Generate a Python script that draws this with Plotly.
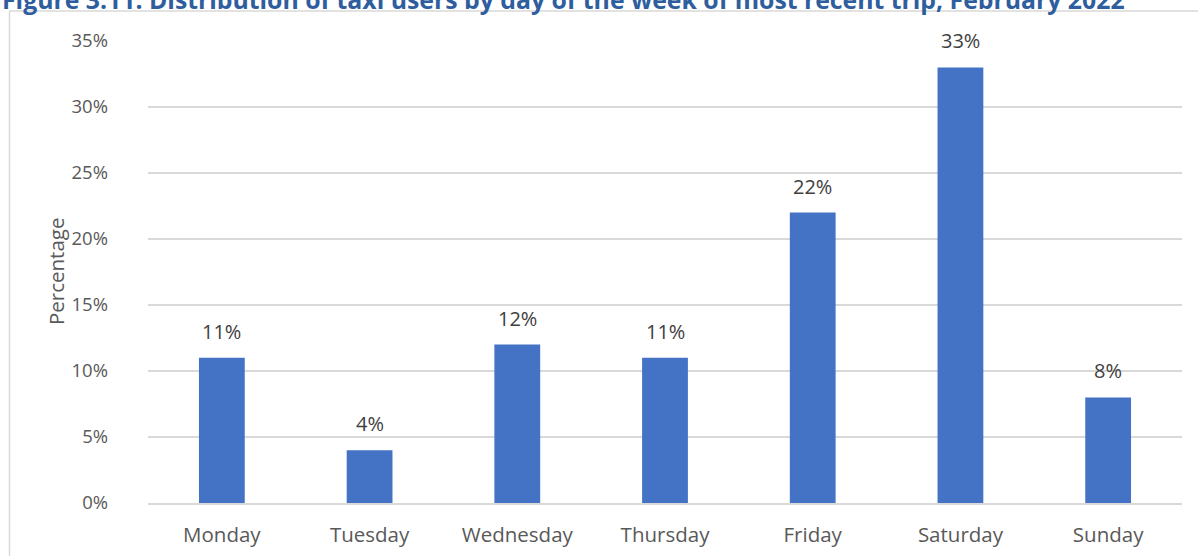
import plotly.graph_objects as go

days = ["Monday", "Tuesday", "Wednesday", "Thursday", "Friday", "Saturday", "Sunday"]
shares = [11, 4, 12, 11, 22, 33, 8]
tick_vals = [0, 5, 10, 15, 20, 25, 30, 35]
tick_text = [f"{v}%" for v in tick_vals]

FONT = "Open Sans, Liberation Sans, sans-serif"

fig = go.Figure(go.Bar(
    x=days, y=shares,
    marker=dict(color="#4472C4", line=dict(width=0)),
    hoverinfo="x+y",
))

W, H = 1198, 556
L, R, T, B = 148, 16, 41, 53
pw, ph = W - L - R, H - T - B

def px_x(px):
    return (px - L) / pw

def px_y(py):
    return (H - B - py) / ph

annotations = [dict(
    text="<b>Figure 3.11: Distribution of taxi users by day of the week of most recent trip, February 2022</b>",
    xref="paper", yref="paper", x=px_x(0), y=px_y(18), xanchor="left", yanchor="bottom",
    showarrow=False, font=dict(size=24.8, color="#2E5E9E", family=FONT),
)]
annotations.append(dict(
    text="Percentage", textangle=-90,
    xref="paper", yref="paper", x=px_x(56), y=px_y(272), xanchor="center", yanchor="middle",
    showarrow=False, font=dict(size=20.5, color="#595959", family=FONT),
))
for d, v in zip(days, shares):
    annotations.append(dict(
        x=d, y=v, xref="x", yref="y", text=f"{v}%", showarrow=False,
        xanchor="center", yanchor="bottom", yshift=11,
        font=dict(size=20, color="#404040", family=FONT),
    ))

fig.update_layout(
    width=W, height=H,
    margin=dict(l=L, r=R, t=T, b=B, autoexpand=False),
    paper_bgcolor="white", plot_bgcolor="white",
    bargap=0.69,
    showlegend=False,
    font=dict(family=FONT, color="#595959"),
    xaxis=dict(showgrid=False, showline=True, linecolor="#D9D9D9", linewidth=1.5,
               ticks="", tickfont=dict(size=20.5, color="#595959"), ticklabelstandoff=13),
    yaxis=dict(range=[0, 35], tickvals=tick_vals, ticktext=tick_text,
               showgrid=True, gridcolor="#D9D9D9", gridwidth=1.5, zeroline=False,
               tickfont=dict(size=18.5, color="#595959"), ticklabelstandoff=39),
    shapes=[
        dict(type="line", xref="paper", yref="paper", x0=px_x(9.5), x1=px_x(9.5), y0=px_y(11), y1=px_y(560),
             line=dict(color="#D9D9D9", width=1.5)),
        dict(type="line", xref="paper", yref="paper", x0=px_x(9.5), x1=px_x(1205), y0=px_y(11), y1=px_y(11),
             line=dict(color="#D9D9D9", width=1.5)),
    ],
    annotations=annotations,
)

fig.write_html("out.html", config={"displayModeBar": False},
               post_script="document.body.style.margin='0';document.body.style.overflow='hidden';")
